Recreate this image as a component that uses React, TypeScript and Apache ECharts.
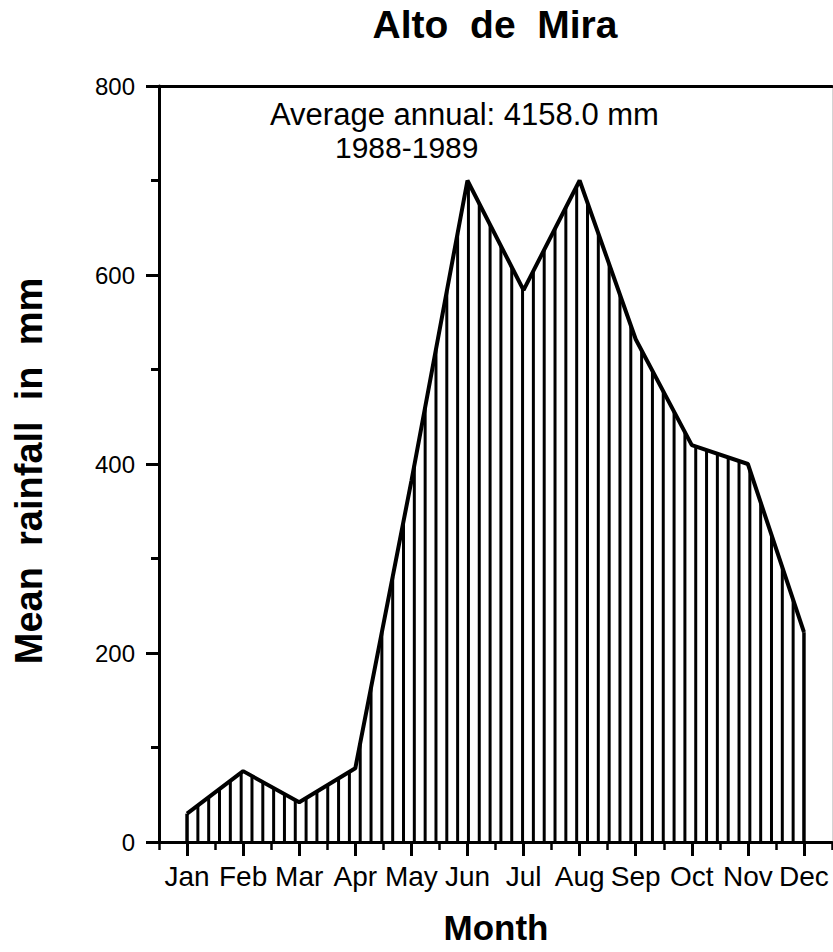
import React, { useEffect, useRef } from 'react';
import * as echarts from 'echarts';

// ---- data ----
const months = ['Jan', 'Feb', 'Mar', 'Apr', 'May', 'Jun', 'Jul', 'Aug', 'Sep', 'Oct', 'Nov', 'Dec'];
const rainfall = [30, 75, 42, 78, 382, 700, 584, 700, 532, 420, 400, 222];
const yMin = 0;
const yMax = 800;
const yInterval = 200;

const titleText = 'Alto  de  Mira';
const annotationLines = ['Average annual: 4158.0 mm', '1988-1989'];
const yAxisTitle = 'Mean  rainfall  in  mm';
const xAxisTitle = 'Month';

const FONT = '"Liberation Sans", Arial, Helvetica, sans-serif';
const HATCH_SPACING = 10.75;

export default function App() {
  const ref = useRef<HTMLDivElement>(null);

  useEffect(() => {
    document.body.style.margin = '0';
    const chart = echarts.init(ref.current as HTMLDivElement, null, { renderer: 'svg' });

    const option: any = {
      animation: false,
      backgroundColor: '#ffffff',
      textStyle: { fontFamily: FONT, color: '#000' },
      grid: {
        left: 159,
        right: 1,
        top: 86,
        bottom: 110,
        containLabel: false,
        outerBoundsMode: 'none',
      },
      xAxis: [
        {
          type: 'category',
          data: months,
          position: 'bottom',
          boundaryGap: true,
          axisLine: { show: true, lineStyle: { color: '#000', width: 3 } },
          axisTick: { show: true, alignWithLabel: true, length: 14, lineStyle: { color: '#000', width: 3 } },
          axisLabel: { show: true, interval: 0, fontSize: 28, color: '#000', margin: 20, fontFamily: FONT },
          splitLine: { show: false },
        },
        {
          type: 'category',
          data: months,
          position: 'bottom',
          boundaryGap: true,
          axisLine: { show: false },
          axisTick: { show: true, interval: 0, length: 8, lineStyle: { color: '#000', width: 2.5 } },
          axisLabel: { show: false },
          splitLine: { show: false },
        },
        {
          type: 'category',
          data: months,
          position: 'top',
          boundaryGap: true,
          axisLine: { show: true, lineStyle: { color: '#000', width: 3 } },
          axisTick: { show: false },
          axisLabel: { show: false },
          splitLine: { show: false },
        },
      ],
      yAxis: [
        {
          type: 'value',
          min: yMin,
          max: yMax,
          interval: yInterval,
          position: 'left',
          axisLine: { show: true, lineStyle: { color: '#000', width: 3 } },
          axisTick: { show: true, length: 13, lineStyle: { color: '#000', width: 3 } },
          minorTick: { show: true, splitNumber: 2, length: 8, lineStyle: { color: '#000', width: 3 } },
          axisLabel: { show: true, fontSize: 24, color: '#000', margin: 24, fontFamily: FONT },
          splitLine: { show: false },
          minorSplitLine: { show: false },
        },
        {
          type: 'value',
          min: yMin,
          max: yMax,
          position: 'right',
          axisLine: { show: true, lineStyle: { color: '#d4d4d4', width: 1 } },
          axisTick: { show: false },
          axisLabel: { show: false },
          splitLine: { show: false },
        },
      ],
      series: [
        {
          type: 'custom',
          coordinateSystem: 'cartesian2d',
          xAxisIndex: 0,
          yAxisIndex: 0,
          data: [[0, 0]],
          silent: true,
          z: 2,
          renderItem: (params: any, api: any) => {
            if (params.dataIndex !== 0) return null;
            const pts = rainfall.map((v, i) => api.coord([i, v]));
            const base = api.coord([0, 0])[1];
            const x0 = pts[0][0];
            const xN = pts[pts.length - 1][0];
            const n = Math.round((xN - x0) / HATCH_SPACING);
            const step = (xN - x0) / n;
            const children: any[] = [];
            for (let k = 0; k <= n; k++) {
              const x = x0 + k * step;
              let j = 0;
              while (j < pts.length - 2 && x > pts[j + 1][0]) j++;
              const t = (x - pts[j][0]) / (pts[j + 1][0] - pts[j][0]);
              const y = pts[j][1] + t * (pts[j + 1][1] - pts[j][1]);
              children.push({
                type: 'line',
                shape: { x1: x, y1: base, x2: x, y2: y },
                style: { stroke: '#000', lineWidth: k === 0 || k === n ? 3.5 : 3 },
              });
            }
            return { type: 'group', children };
          },
        },
        {
          type: 'line',
          data: rainfall,
          xAxisIndex: 0,
          yAxisIndex: 0,
          symbol: 'none',
          z: 3,
          lineStyle: { color: '#000', width: 4 },
          itemStyle: { color: '#000' },
        },
      ],
      graphic: [
        {
          type: 'text',
          x: 495,
          y: 24,
          style: {
            text: titleText,
            fontSize: 39,
            fontWeight: 'bold',
            fontFamily: FONT,
            fill: '#000',
            align: 'center',
            verticalAlign: 'middle',
          },
        },
        {
          type: 'text',
          x: 270,
          y: 114,
          style: {
            text: annotationLines[0],
            fontSize: 31,
            fontFamily: FONT,
            fill: '#000',
            align: 'left',
            verticalAlign: 'middle',
          },
        },
        {
          type: 'text',
          x: 335,
          y: 147,
          style: {
            text: annotationLines[1],
            fontSize: 30,
            fontFamily: FONT,
            fill: '#000',
            align: 'left',
            verticalAlign: 'middle',
          },
        },
        {
          type: 'text',
          x: 29,
          y: 471,
          rotation: Math.PI / 2,
          style: {
            text: yAxisTitle,
            fontSize: 38,
            fontWeight: 'bold',
            fontFamily: FONT,
            fill: '#000',
            align: 'center',
            verticalAlign: 'middle',
          },
        },
        {
          type: 'text',
          x: 496,
          y: 927,
          style: {
            text: xAxisTitle,
            fontSize: 35,
            fontWeight: 'bold',
            fontFamily: FONT,
            fill: '#000',
            align: 'center',
            verticalAlign: 'middle',
          },
        },
      ],
    };

    chart.setOption(option);
    return () => chart.dispose();
  }, []);

  return <div ref={ref} style={{ position: 'fixed', left: 0, top: 0, width: 833, height: 952 }} />;
}
